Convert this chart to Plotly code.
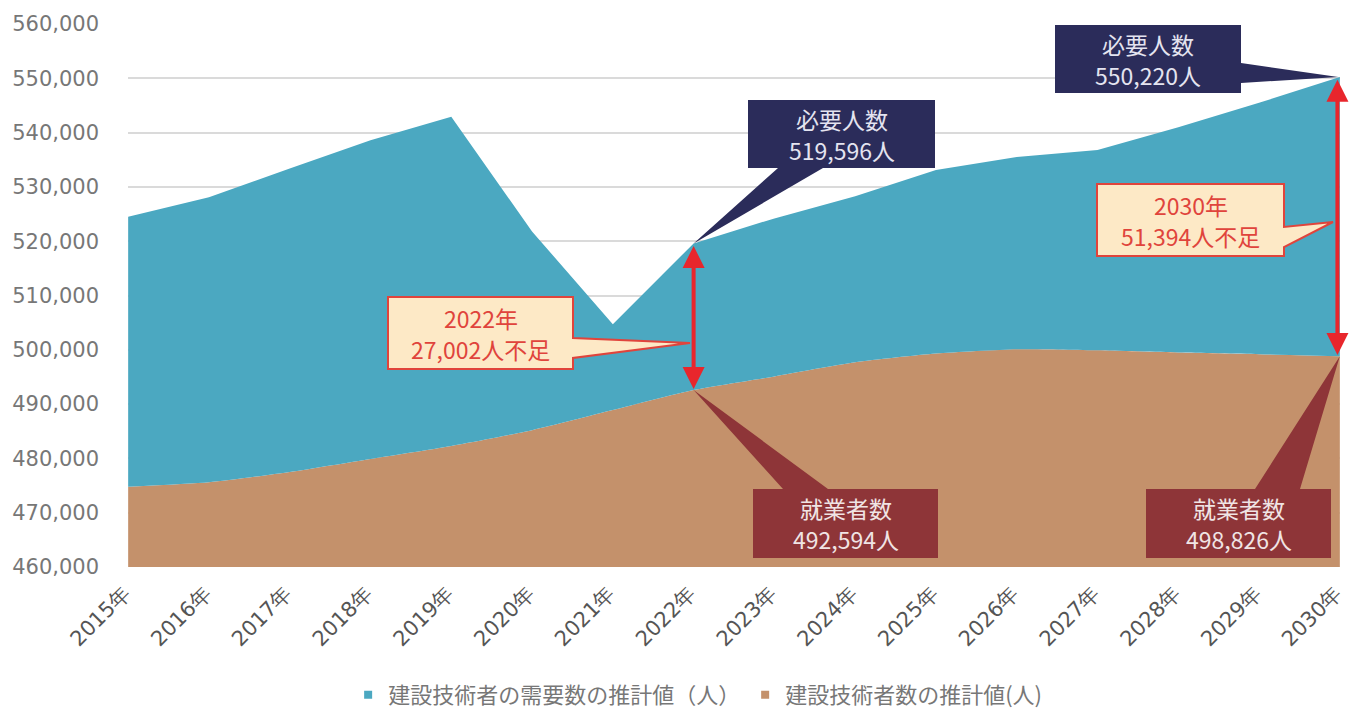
import plotly.graph_objects as go

# ---------------- data ----------------
years = ["2015年", "2016年", "2017年", "2018年", "2019年", "2020年", "2021年", "2022年",
         "2023年", "2024年", "2025年", "2026年", "2027年", "2028年", "2029年", "2030年"]
demand = [524500, 528100, 533400, 538600, 542900, 521800, 504700, 519596,
          524200, 528300, 533100, 535500, 536800, 541000, 545500, 550220]
workers = [474800, 475600, 477500, 479900, 482300, 485200, 488900, 492594,
           495100, 497700, 499300, 500100, 499900, 499500, 499200, 498826]
demand_name = "建設技術者の需要数の推計値（人）"
workers_name = "建設技術者数の推計値(人)"
y_ticks = [460000, 470000, 480000, 490000, 500000, 510000, 520000, 530000, 540000, 550000, 560000]

# ---------------- style ----------------
BLUE = "#4BA8C1"
TAN = "#C4916B"
NAVY = "#2B2C5A"
DARKRED = "#8E3538"
CREAM = "#FDE9C6"
RED = "#E8262C"
FONT = "Noto Sans CJK JP, sans-serif"
NUMFONT = "DejaVu Sans, sans-serif"

W, H = 1349, 713
ML, MR, MT, MB = 128, 9, 24, 146
YMIN, YMAX = 460000, 560000
XPAD = 0.002
x = list(range(len(years)))
plot_w = W - ML - MR
plot_h = H - MT - MB
x_span = (len(years) - 1) + 2 * XPAD


def dx(px):
    return (px - ML) / plot_w * x_span - XPAD


def dy(py):
    return YMAX - (py - MT) / plot_h * (YMAX - YMIN)


def path_from(points):
    return "M " + " L ".join(f"{a:.4f},{b:.2f}" for a, b in points) + " Z"


fig = go.Figure()
fig.add_trace(go.Scatter(x=x, y=workers, mode="lines",
                         line=dict(color=TAN, width=0, shape="spline", smoothing=0.6),
                         fill="tozeroy", fillcolor=TAN, showlegend=False, hoverinfo="skip"))
fig.add_trace(go.Scatter(x=x, y=demand, mode="lines", line=dict(color=BLUE, width=0),
                         fill="tonexty", fillcolor=BLUE, showlegend=False, hoverinfo="skip"))
# legend entries (small squares)
fig.add_trace(go.Scatter(x=[None], y=[None], mode="markers", name=demand_name,
                         marker=dict(symbol="square", size=8, color=BLUE)))
fig.add_trace(go.Scatter(x=[None], y=[None], mode="markers", name=workers_name,
                         marker=dict(symbol="square", size=8, color=TAN)))

shapes = []
annotations = []


def make_callout(box, side, p1, p2, tip_xy, fill, line_color, lines, text_color):
    (bx0, by0, bx1, by1) = box
    tx, ty = tip_xy
    if side == "bottom":
        pts = [(dx(bx0), dy(by0)), (dx(bx1), dy(by0)), (dx(bx1), dy(by1)), (dx(p2), dy(by1)),
               (tx, ty), (dx(p1), dy(by1)), (dx(bx0), dy(by1))]
    elif side == "top":
        pts = [(dx(bx0), dy(by0)), (dx(p1), dy(by0)), (tx, ty), (dx(p2), dy(by0)),
               (dx(bx1), dy(by0)), (dx(bx1), dy(by1)), (dx(bx0), dy(by1))]
    else:
        pts = [(dx(bx0), dy(by0)), (dx(bx1), dy(by0)), (dx(bx1), dy(p1)), (tx, ty),
               (dx(bx1), dy(p2)), (dx(bx1), dy(by1)), (dx(bx0), dy(by1))]
    shapes.append(dict(type="path", xref="x", yref="y", path=path_from(pts),
                       fillcolor=fill, line=dict(color=line_color if line_color else fill,
                                                 width=2 if line_color else 0),
                       layer="above"))
    cx = (bx0 + bx1) / 2
    cy = (by0 + by1) / 2
    for k, line in enumerate(lines):
        annotations.append(dict(x=dx(cx), y=dy(cy - 15.5 + 31 * k), xref="x", yref="y",
                                text=line, showarrow=False, align="center",
                                font=dict(family=FONT, size=23, color=text_color)))


i22 = years.index("2022年")
i30 = years.index("2030年")

# red double arrows showing the gap
for i, off in ((i22, 0.0), (i30, 0.03)):
    annotations.append(dict(x=x[i] - off, y=workers[i] + 200, ax=x[i] - off, ay=demand[i] - 200,
                            xref="x", yref="y", axref="x", ayref="y", text="", showarrow=True,
                            arrowside="end+start", arrowhead=2, startarrowhead=2,
                            arrowsize=1.1, startarrowsize=1.1, arrowwidth=4, arrowcolor=RED))

# navy callouts (demand)
make_callout((748, 100, 935, 168), "bottom", 778, 823, (x[i22], demand[i22]), NAVY, None,
             ["必要人数", f"{demand[i22]:,}人"], "#E4E4F0")
make_callout((1055, 25, 1241, 93), "right", 63, 83, (x[i30] - 0.02, demand[i30]), NAVY, None,
             ["必要人数", f"{demand[i30]:,}人"], "#E4E4F0")
# dark red callouts (workers)
make_callout((753, 489, 938, 558), "top", 783, 828, (x[i22], workers[i22]), DARKRED, None,
             ["就業者数", f"{workers[i22]:,}人"], "#F0E4E4")
make_callout((1146, 489, 1331, 558), "top", 1255, 1300, (x[i30], workers[i30]), DARKRED, None,
             ["就業者数", f"{workers[i30]:,}人"], "#F0E4E4")
# cream callouts (shortage)
gap22 = demand[i22] - workers[i22]
gap30 = demand[i30] - workers[i30]
make_callout((388, 297, 573, 369), "right", 338, 358, (dx(690), dy(343)), CREAM, "#E0443C",
             ["2022年", f"{gap22:,}人不足"], "#E0443C")
make_callout((1097, 184, 1284, 256), "right", 227, 247, (dx(1333), dy(222)), CREAM, "#E0443C",
             ["2030年", f"{gap30:,}人不足"], "#E0443C")

fig.update_layout(
    width=W, height=H,
    margin=dict(l=ML, r=MR, t=MT, b=MB, autoexpand=False),
    paper_bgcolor="white", plot_bgcolor="white",
    font=dict(family=FONT, color="#666666"),
    shapes=shapes, annotations=annotations,
    showlegend=True,
    legend=dict(orientation="h", x=0.47, xanchor="center", y=-0.2357, yanchor="middle",
                font=dict(family=FONT, size=22, color="#777777"), itemwidth=30,
                traceorder="normal", tracegroupgap=0),
    xaxis=dict(range=[-XPAD, len(years) - 1 + XPAD], tickmode="array", tickvals=x, ticktext=years,
               tickangle=-45, showgrid=False, zeroline=False, showline=False, ticks="",
               automargin=False, ticklabeloverflow="allow", ticklabelstandoff=9,
               ticklabelshift=-4,
               tickfont=dict(family=NUMFONT, size=21, color="#555555")),
    yaxis=dict(range=[YMIN, YMAX], tickmode="array", tickvals=y_ticks,
               ticktext=[f"{v:,}" for v in y_ticks], showgrid=True, gridcolor="#DADADA",
               gridwidth=2, zeroline=False, showline=False, ticks="", ticklabelstandoff=28,
               automargin=False, ticklabeloverflow="allow",
               tickfont=dict(family=NUMFONT, size=21, color="#777777")),
)

fig.write_html("out.html", config={"displayModeBar": False},
               post_script="document.body.style.margin='0';document.body.style.overflow='hidden';")
